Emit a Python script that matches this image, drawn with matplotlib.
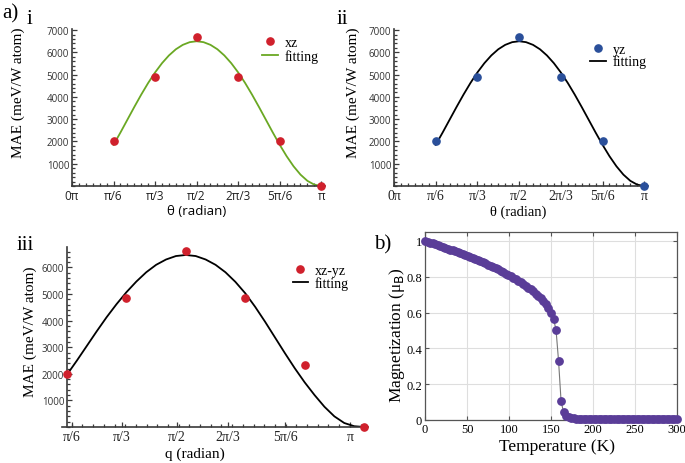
import matplotlib
matplotlib.use("Agg")
import matplotlib.pyplot as plt
from matplotlib.ticker import MultipleLocator, FixedLocator

# ---------------- data ----------------
theta_pts = [1/6, 1/3, 1/2, 2/3, 5/6, 1.0]          # units of pi
mae_xz = [2000, 4890, 6680, 4890, 2000, 0]
mae_yz = [2000, 4890, 6680, 4890, 2000, 0]
mae_xzyz = [2000, 4850, 6620, 4850, 2320, 0]

theta_fit_deg = [30, 35, 40, 45, 50, 55, 60, 65, 70, 75, 80, 85, 90, 95, 100, 105,
                 110, 115, 120, 125, 130, 135, 140, 145, 150, 155, 160, 165, 170, 175, 180]
fit_xz = [1850, 2403, 2977, 3550, 4105, 4627, 5100, 5515, 5863, 6140, 6338, 6459, 6500,
          6459, 6338, 6140, 5863, 5515, 5100, 4627, 4105, 3550, 2977, 2403, 1850,
          1337, 885, 511, 231, 59, 0]
fit_yz = [1850, 2403, 2977, 3550, 4105, 4627, 5100, 5515, 5863, 6140, 6338, 6459, 6500,
          6459, 6338, 6140, 5863, 5515, 5100, 4627, 4105, 3550, 2977, 2403, 1850,
          1337, 885, 511, 231, 59, 0]
fit_xzyz = [1970, 2500, 3050, 3600, 4130, 4620, 5070, 5470, 5820, 6100, 6300, 6430, 6470,
            6430, 6300, 6100, 5820, 5460, 5030, 4520, 3960, 3370, 2780, 2210, 1680,
            1200, 760, 400, 150, 30, 0]

x_ticklabels = ["0\u03c0", "\u03c0/6", "\u03c0/3", "\u03c0/2", "2\u03c0/3", "5\u03c0/6", "\u03c0"]
x_ticklabels_iii = ["\u03c0/6", "\u03c0/3", "\u03c0/2", "2\u03c0/3", "5\u03c0/6", "\u03c0"]

temperature = [0, 3, 6, 9, 12, 15, 18, 21, 24, 27, 30, 33, 36, 39, 42, 45, 48, 51, 54, 57,
               60, 63, 66, 69, 72, 75, 78, 81, 84, 87, 90, 93, 96, 99, 102, 105, 108, 111,
               114, 117, 120, 123, 126, 129, 132, 135, 138, 141, 144, 147, 150, 153, 156,
               159, 162, 165, 168, 171, 174, 177, 180, 183, 186, 189, 192, 195, 198, 201,
               204, 207, 210, 213, 216, 219, 222, 225, 228, 231, 234, 237, 240, 243, 246,
               249, 252, 255, 258, 261, 264, 267, 270, 273, 276, 279, 282, 285, 288, 291,
               294, 297, 300]
magnetization = [1.000, 0.995, 0.991, 0.986, 0.981, 0.977, 0.972, 0.967, 0.962, 0.957,
                 0.952, 0.947, 0.942, 0.937, 0.932, 0.926, 0.921, 0.916, 0.910, 0.905,
                 0.899, 0.893, 0.887, 0.881, 0.875, 0.868, 0.862, 0.855, 0.848, 0.841,
                 0.834, 0.826, 0.818, 0.810, 0.802, 0.795, 0.787, 0.778, 0.769, 0.760,
                 0.750, 0.740, 0.729, 0.718, 0.706, 0.694, 0.681, 0.667, 0.650, 0.628,
                 0.600, 0.565, 0.503, 0.330, 0.104, 0.043, 0.021, 0.015, 0.011, 0.009,
                 0.008, 0.007, 0.007, 0.006, 0.006, 0.006, 0.005, 0.005, 0.005, 0.005,
                 0.005, 0.005, 0.005, 0.005, 0.005, 0.005, 0.005, 0.005, 0.005, 0.005,
                 0.005, 0.005, 0.005, 0.005, 0.005, 0.005, 0.005, 0.005, 0.005, 0.005,
                 0.005, 0.005, 0.005, 0.005, 0.005, 0.005, 0.005, 0.005, 0.005, 0.005,
                 0.005]

# ---------------- style ----------------
RED = "#d0202c"
BLUE = "#2a4f9a"
GREEN = "#6aa823"
PURPLE = "#5a3d98"
AXC = "#3a3a3a"
SERIF = ["Liberation Serif", "DejaVu Serif"]
SANS = ["Open Sans", "DejaVu Sans"]

W, H = 685, 464
fig = plt.figure(figsize=(W / 100, H / 100), dpi=100)


def box(l, r, t, b):
    return [l / W, 1 - b / H, (r - l) / W, (b - t) / H]


def mathematica_axes(ax, ylim, xlim):
    ax.set_xlim(*xlim)
    ax.set_ylim(*ylim)
    for s in ["top", "right"]:
        ax.spines[s].set_visible(False)
    for s in ["left", "bottom"]:
        ax.spines[s].set_color(AXC)
        ax.spines[s].set_linewidth(1.2)
    ax.tick_params(which="both", direction="in", color=AXC, width=0.9)
    ax.tick_params(which="major", length=3.5)
    ax.tick_params(which="minor", length=2)
    ax.yaxis.set_major_locator(FixedLocator([1000, 2000, 3000, 4000, 5000, 6000, 7000]))
    ax.yaxis.set_minor_locator(MultipleLocator(200))
    ax.tick_params(axis="y", labelsize=7, labelcolor="#333333", pad=2)
    ax.tick_params(axis="x", labelsize=9.5, labelcolor="#222222", pad=2)


def legend(ax, anchor, spacing):
    h, l = ax.get_legend_handles_labels()
    ax.legend([h[1], h[0]], [l[1], l[0]], loc="upper left", bbox_to_anchor=anchor,
              frameon=False, prop={"family": SERIF, "size": 10}, handlelength=1.1,
              handletextpad=0.5, borderpad=0.1, labelspacing=spacing)


fitx = [d / 180 for d in theta_fit_deg]

# ---------- panel i ----------
ax1 = fig.add_axes(box(72, 325, 30, 187))
ax1.plot(fitx, fit_xz, color=GREEN, lw=1.3, label="fitting", zorder=2)
ax1.plot(theta_pts, mae_xz, "o", color=RED, ms=5.2, label="xz", zorder=3, clip_on=False)
mathematica_axes(ax1, (0, 7050), (0, 1.015))
ax1.xaxis.set_major_locator(FixedLocator([0, 1/6, 1/3, 1/2, 2/3, 5/6, 1]))
ax1.xaxis.set_minor_locator(MultipleLocator(1/36))
ax1.set_xticklabels(x_ticklabels, fontfamily=SANS, fontsize=8.5)
for lab in ax1.get_yticklabels():
    lab.set_fontfamily(SANS)
ax1.set_ylabel("MAE (meV/W atom)", fontfamily=SERIF, fontsize=11)
ax1.yaxis.set_label_coords(-0.186, 0.6)
ax1.set_xlabel("\u03b8 (radian)", fontfamily=SANS, fontsize=9.5)
ax1.xaxis.set_label_coords(0.494, -0.115)
legend(ax1, (0.72, 1.01), 0.0)

# ---------- panel ii ----------
ax2 = fig.add_axes(box(394, 648, 30, 187))
ax2.plot(fitx, fit_yz, color="black", lw=1.3, label="fitting", zorder=2)
ax2.plot(theta_pts, mae_yz, "o", color=BLUE, ms=5.2, label="yz", zorder=3, clip_on=False)
mathematica_axes(ax2, (0, 7050), (0, 1.015))
ax2.xaxis.set_major_locator(FixedLocator([0, 1/6, 1/3, 1/2, 2/3, 5/6, 1]))
ax2.xaxis.set_minor_locator(MultipleLocator(1/36))
ax2.set_xticklabels(x_ticklabels, fontfamily=SERIF, fontsize=10)
for lab in ax2.get_yticklabels():
    lab.set_fontfamily(SANS)
ax2.set_ylabel("MAE (meV/W atom)", fontfamily=SERIF, fontsize=11)
ax2.yaxis.set_label_coords(-0.134, 0.6)
ax2.set_xlabel("\u03b8 (radian)", fontfamily=SERIF, fontsize=10.5)
ax2.xaxis.set_label_coords(0.488, -0.115)
legend(ax2, (0.74, 0.965), -0.08)

# ---------- panel iii ----------
ax3 = fig.add_axes(box(62, 368, 248, 428))
ax3.plot(fitx, fit_xzyz, color="black", lw=1.3, label="fitting", zorder=2)
ax3.plot(theta_pts, mae_xzyz, "o", color=RED, ms=5.2, label="xz-yz", zorder=3, clip_on=False)
mathematica_axes(ax3, (0, 6770), (0.1526, 1.011))
ax3.spines["left"].set_position(("data", 1/6))
ax3.yaxis.set_major_locator(FixedLocator([1000, 2000, 3000, 4000, 5000, 6000]))
ax3.xaxis.set_major_locator(FixedLocator([0.181, 0.321, 0.475, 0.618, 0.778, 0.961]))
ax3.xaxis.set_minor_locator(MultipleLocator(0.03))
ax3.set_xticklabels(x_ticklabels_iii, fontfamily=SERIF, fontsize=10)
for lab in ax3.get_yticklabels():
    lab.set_fontfamily(SANS)
ax3.set_ylabel("MAE (meV/W atom)", fontfamily=SERIF, fontsize=11)
ax3.yaxis.set_label_coords(-0.082, 0.533)
ax3.set_xlabel("q (radian)", fontfamily=SERIF, fontsize=11)
ax3.xaxis.set_label_coords(0.435, -0.11)
legend(ax3, (0.727, 0.95), -0.08)

# ---------- panel b ----------
ax4 = fig.add_axes(box(425, 677, 233, 421))
ax4.plot(temperature, magnetization, "-", color="#777777", lw=0.8, zorder=2)
ax4.plot(temperature, magnetization, "o", color=PURPLE, ms=5.3, mec=PURPLE, zorder=3,
         clip_on=False)
ax4.set_xlim(0, 300)
ax4.set_ylim(0, 1.05)
ax4.set_xticks([0, 50, 100, 150, 200, 250, 300])
ax4.set_yticks([0, 0.2, 0.4, 0.6, 0.8, 1])
ax4.set_yticklabels(["0", "0.2", "0.4", "0.6", "0.8", "1"])
ax4.grid(True, color="#dedede", lw=0.8)
ax4.set_axisbelow(True)
for s in ax4.spines.values():
    s.set_color("#555555")
    s.set_linewidth(0.9)
ax4.tick_params(direction="in", length=3, top=True, right=True, color="#555555",
                labelsize=9, pad=2)
for lab in ax4.get_xticklabels() + ax4.get_yticklabels():
    lab.set_fontfamily(SERIF)
ax4.set_xlabel("Temperature (K)", fontfamily=SERIF, fontsize=12.5)
ax4.xaxis.set_label_coords(0.524, -0.095)
ax4.set_ylabel("Magnetization (\u03bc$_\\mathrm{B}$)", fontfamily=SERIF, fontsize=12.5)
ax4.yaxis.set_label_coords(-0.071, 0.457)

# ---------- panel labels ----------
fig.text(2 / W, 1 - 14 / H, "a)", fontfamily=SERIF, fontsize=15, va="center", ha="left")
fig.text(27 / W, 1 - 19 / H, "i", fontfamily=SERIF, fontsize=15, va="center", ha="left")
fig.text(337 / W, 1 - 19 / H, "ii", fontfamily=SERIF, fontsize=15, va="center", ha="left")
fig.text(17 / W, 1 - 245 / H, "iii", fontfamily=SERIF, fontsize=15, va="center", ha="left")
fig.text(374 / W, 1 - 245 / H, "b)", fontfamily=SERIF, fontsize=15, va="center", ha="left")

fig.savefig("out.png", dpi=100)
